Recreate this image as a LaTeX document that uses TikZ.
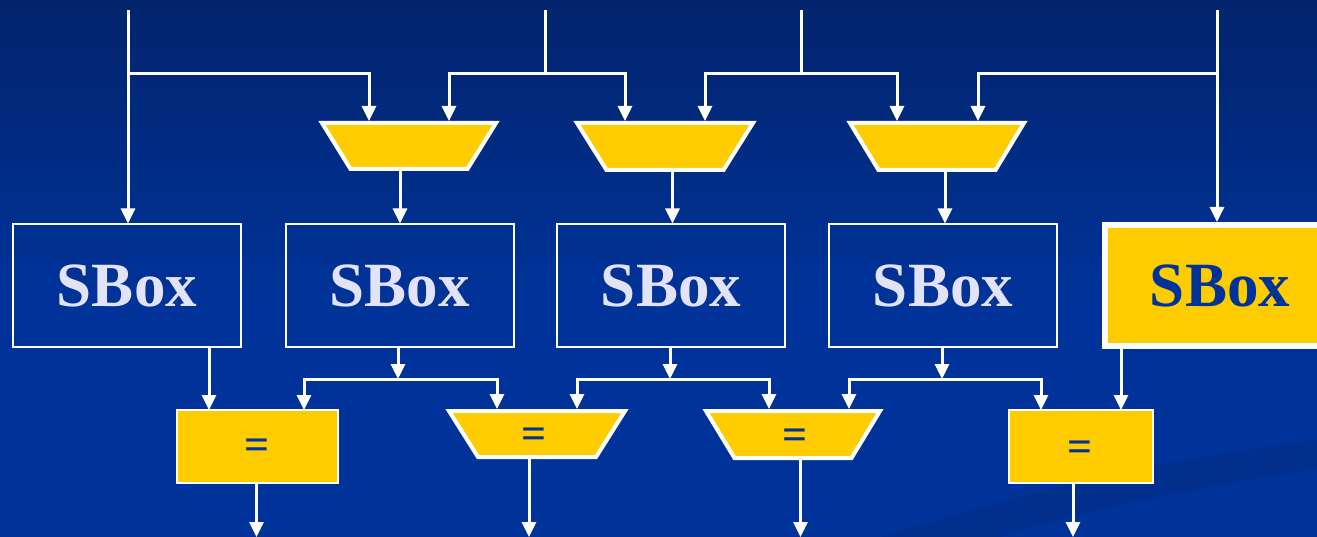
\documentclass[tikz,border=0pt]{standalone}
\usepackage{fontspec}
\setmainfont{Liberation Serif}
\usetikzlibrary{arrows.meta}

\definecolor{bgtop}{RGB}{2,36,108}
\definecolor{bgblue}{RGB}{0,51,153}
\definecolor{gold}{RGB}{255,204,0}
\definecolor{lav}{RGB}{226,226,248}

\tikzset{
  wire/.style={draw=white, line width=3pt},
  arr/.style={wire, -{Triangle[width=14pt,length=15pt]}},
  sbox/.style={draw=white, line width=2pt, minimum width=228pt, minimum height=122pt,
    inner sep=0pt, text=lav, font=\fontsize{63}{70}\selectfont\bfseries},
  sboxhi/.style={sbox, fill=gold, text=bgblue, line width=6pt,
    minimum width=230pt, minimum height=121pt},
  eqbox/.style={draw=white, line width=2pt, fill=gold, inner sep=0pt},
  trapfill/.style={draw=white, line width=4pt, fill=gold, line join=miter},
  eqtext/.style={text=bgblue, font=\fontsize{44}{48}\selectfont\bfseries,
    inner sep=0pt, yshift=-4.5pt},
}

% trapezoid block: name, centre x, top y, bottom y, half top width, half bottom width
\newcommand\trapblock[6]{%
  \filldraw[trapfill] (#2-#5,#3) -- (#2+#5,#3) -- (#2+#6,#4) -- (#2-#6,#4) -- cycle;
  \coordinate (#1) at (#2,{(#3+#4)/2});
}

\begin{document}
\begin{tikzpicture}[x=1pt,y=-1pt]
  \useasboundingbox (0,0) rectangle (1317,537);

  % background
  \fill[bgblue] (0,0) rectangle (1317,537);
  \shade[top color=bgtop, bottom color=bgblue] (0,0) rectangle (1317,300);
  \fill[black, opacity=0.07] (880,537) .. controls (1000,500) and (1150,460) .. (1317,440)
    -- (1317,468) .. controls (1200,488) and (1080,510) .. (1000,537) -- cycle;

  % S-boxes
  \node[sbox] (s1) at (127,285.5) {SBox};
  \node[sbox] (s2) at (399.5,285.5) {SBox};
  \node[sbox] (s3) at (671,285.5) {SBox};
  \node[sbox] (s4) at (943,285.5) {SBox};
  \node[sboxhi] (s5) at (1220,285.5) {SBox};

  % upper multiplexers
  \trapblock{t1}{409}{123}{169}{87}{58.5}
  \trapblock{t2}{665}{123}{170}{88}{58.5}
  \trapblock{t3}{937}{123}{170}{87}{58.5}

  % comparators
  \node[eqbox, minimum width=161pt, minimum height=73pt] (e1) at (257.5,446.5) {};
  \node[eqbox, minimum width=144pt, minimum height=73pt] (e4) at (1081,446.5) {};
  \trapblock{e2}{537}{411}{457}{88}{59}
  \trapblock{e3}{793}{411}{458}{87}{58.5}
  \node[eqtext] (e1t) at (257,445) {=};
  \node[eqtext] (e2t) at (534,434) {=};
  \node[eqtext] (e3t) at (795,435) {=};
  \node[eqtext] (e4t) at (1080.5,446.5) {=};

  % input and junction points
  \coordinate (in1) at (128,10);   \coordinate (j1) at (128,74);
  \coordinate (in2) at (545,10);   \coordinate (j2) at (545,74);
  \coordinate (in3) at (801,10);   \coordinate (j3) at (801,74);
  \coordinate (in4) at (1217,10);  \coordinate (j4) at (1217,74);

  \coordinate (t1l) at (369,121);  \coordinate (t1r) at (449,121);
  \coordinate (t2l) at (625,121);  \coordinate (t2r) at (705,121);
  \coordinate (t3l) at (897,121);  \coordinate (t3r) at (978,121);
  \coordinate (t1o) at (400,170);  \coordinate (t2o) at (672.5,171);
  \coordinate (t3o) at (945,171);

  % top wiring
  \draw[arr] (in1) -- (in1 |- s1.north);
  \draw[arr] (j1) -| (t1l);
  \draw[wire] (in2) -- (j2);
  \draw[arr] (j2) -| (t1r);
  \draw[arr] (j2) -| (t2l);
  \draw[wire] (in3) -- (j3);
  \draw[arr] (j3) -| (t2r);
  \draw[arr] (j3) -| (t3l);
  \draw[arr] (in4) -- (in4 |- s5.north);
  \draw[arr] (j4) -| (t3r);

  \draw[arr] (t1o) -- (t1o |- s2.north);
  \draw[arr] (t2o) -- (t2o |- s3.north);
  \draw[arr] (t3o) -- (t3o |- s4.north);

  % lower wiring
  \coordinate (k2) at (398,379);
  \coordinate (k3) at (670,379);
  \coordinate (k4) at (942,379);
  \coordinate (e1a) at (209,410);  \coordinate (e1b) at (304,410);
  \coordinate (e2a) at (497,409);  \coordinate (e2b) at (577,409);
  \coordinate (e3a) at (769,409);  \coordinate (e3b) at (849,409);
  \coordinate (e4a) at (1041,410); \coordinate (e4b) at (1121,410);

  \draw[arr] (e1a |- s1.south) -- (e1a);
  \draw[arr] (k2 |- s2.south) -- (k2);
  \draw[arr] (k2) -| (e1b);
  \draw[arr] (k2) -| (e2a);
  \draw[arr] (k3 |- s3.south) -- (k3);
  \draw[arr] (k3) -| (e2b);
  \draw[arr] (k3) -| (e3a);
  \draw[arr] (k4 |- s4.south) -- (k4);
  \draw[arr] (k4) -| (e3b);
  \draw[arr] (k4) -| (e4a);
  \draw[arr] (e4b |- s5.south) -- (e4b);

  % outputs
  \coordinate (o1) at (256.5,537);
  \coordinate (o2) at (529,537);
  \coordinate (o3) at (800.5,537);
  \coordinate (o4) at (1073,537);
  \coordinate (e2o) at (529,457);
  \coordinate (e3o) at (800.5,458);
  \draw[arr] (o1 |- e1.south) -- (o1);
  \draw[arr] (e2o) -- (o2);
  \draw[arr] (e3o) -- (o3);
  \draw[arr] (o4 |- e4.south) -- (o4);
\end{tikzpicture}
\end{document}
